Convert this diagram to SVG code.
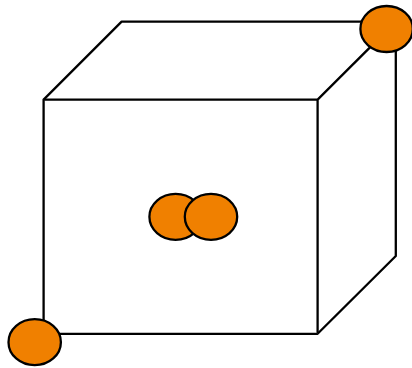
<svg xmlns="http://www.w3.org/2000/svg" width="412" height="368" viewBox="0 0 412 368">
<style>
.c{fill:#fff;stroke:#000;stroke-width:2.3;stroke-linejoin:round}
.n{fill:#f08000;stroke:#000;stroke-width:2.3}
</style>
<g id="connectors">
<path class="c" d="M43.6 99.6L121.6 21.6H395.8V256L317.6 333.8H43.6Z"/>
<path class="c" d="M43.6 99.6H317.6V333.8M317.6 99.6L395.8 21.6"/>
</g>
<g id="node-top"><ellipse class="n" cx="386.6" cy="29" rx="26.2" ry="23"/></g>
<g id="node-bottom"><ellipse class="n" cx="34.7" cy="342.2" rx="26.2" ry="23"/></g>
<g id="node-center-left"><ellipse class="n" cx="175.6" cy="216.8" rx="26.2" ry="23"/></g>
<g id="node-center-right"><ellipse class="n" cx="211" cy="216.8" rx="26.2" ry="23"/></g>
</svg>
